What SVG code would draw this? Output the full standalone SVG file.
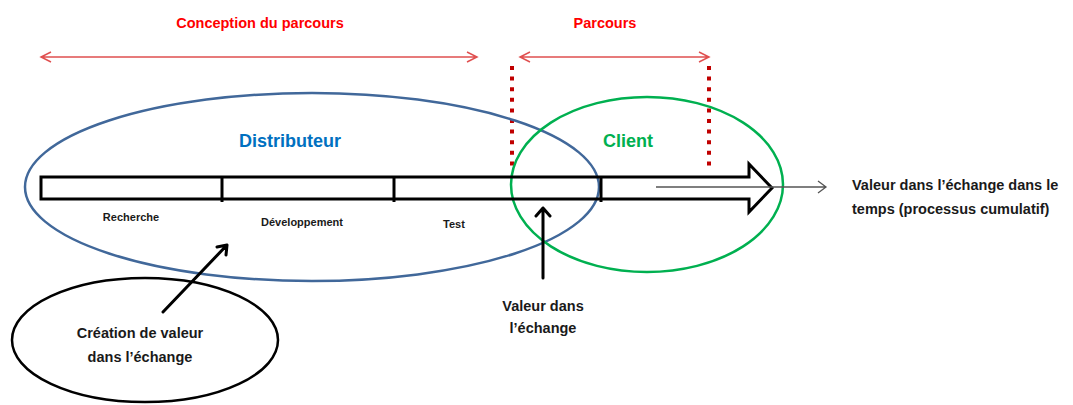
<svg xmlns="http://www.w3.org/2000/svg" width="1073" height="405" viewBox="0 0 1073 405">
<style>
  text { font-family: "Liberation Sans", Arial, sans-serif; font-weight: bold; }
  .red { fill: #ff0000; font-size: 14.5px; text-anchor: middle; }
  .lbl { fill: #1a1a1a; font-size: 14.5px; }
  .small { fill: #1a1a1a; font-size: 11px; text-anchor: middle; }
  .rline { stroke: #e05050; stroke-width: 1.5; fill: none; }
  .dots { stroke: #c00000; stroke-width: 4; stroke-dasharray: 4 6.6; fill: none; }
  .blk { stroke: #000; stroke-width: 3; fill: none; stroke-linecap: round; stroke-linejoin: round; }
</style>
<rect width="1073" height="405" fill="#ffffff"/>

<g id="span-conception">
  <text class="red" x="260" y="28">Conception du parcours</text>
  <path class="rline" d="M41,57 L477,57 M51,52 L41,57 L51,62 M467,52 L477,57 L467,62"/>
</g>
<g id="span-parcours">
  <text class="red" x="605" y="28">Parcours</text>
  <path class="rline" d="M520,57 L709,57 M530,52 L520,57 L530,62 M699,52 L709,57 L699,62"/>
</g>
<g id="limits">
  <line class="dots" x1="512" y1="66" x2="512" y2="166"/>
  <line class="dots" x1="709" y1="66" x2="709" y2="170"/>
</g>

<g id="distributeur">
  <ellipse cx="312" cy="187" rx="287" ry="94" fill="none" stroke="#41689a" stroke-width="2.5"/>
  <text x="290" y="147" fill="#0070c0" font-size="18" text-anchor="middle">Distributeur</text>
</g>
<g id="client">
  <ellipse cx="647" cy="184.5" rx="136" ry="87.5" fill="none" stroke="#00b050" stroke-width="2.5"/>
  <text x="628" y="147" fill="#00b050" font-size="18" text-anchor="middle">Client</text>
</g>

<g id="timeline">
  <path d="M41,177 L749,177 L749,164 L772,188 L749,212 L749,199 L41,199 Z" fill="none" stroke="#000" stroke-width="3" stroke-linejoin="miter"/>
  <line x1="222" y1="177" x2="222" y2="202" stroke="#000" stroke-width="3"/>
  <line x1="394" y1="177" x2="394" y2="202" stroke="#000" stroke-width="3"/>
  <line x1="601" y1="177" x2="601" y2="202" stroke="#000" stroke-width="3"/>
  <text class="small" x="131" y="221">Recherche</text>
  <text class="small" x="302" y="226">Développement</text>
  <text class="small" x="454" y="228">Test</text>
</g>

<g id="valeur-temps">
  <text class="lbl" x="852" y="190">Valeur dans l’échange dans le</text>
  <text class="lbl" x="852" y="214">temps (processus cumulatif)</text>
</g>

<g id="creation">
  <ellipse cx="145" cy="340" rx="133" ry="62" fill="none" stroke="#000" stroke-width="2.5"/>
  <text class="lbl" x="140" y="338" text-anchor="middle">Création de valeur</text>
  <text class="lbl" x="140" y="362" text-anchor="middle">dans l’échange</text>
</g>

<g id="valeur-echange">
  <text class="lbl" x="543" y="311" text-anchor="middle">Valeur dans</text>
  <text class="lbl" x="543" y="333" text-anchor="middle">l’échange</text>
</g>

<g id="connectors">
  <path d="M656,187 L826,187 M818,181 L826,187 L818,193" stroke="#555" stroke-width="1.3" fill="none"/>
  <path class="blk" d="M543,278 L543,208 M536,216 L543,208 L550,216"/>
  <path class="blk" d="M163,312 L227,245 M217,247 L227,245 L226,255"/>
</g>
</svg>
